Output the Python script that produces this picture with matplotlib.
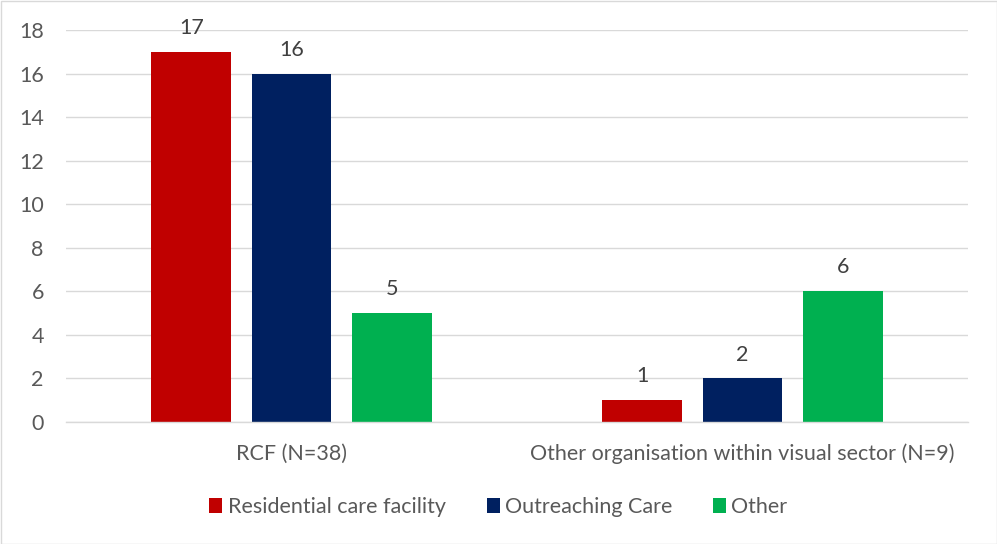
import matplotlib
matplotlib.use("Agg")
import matplotlib.pyplot as plt
import numpy as np
from matplotlib.patches import Rectangle

categories = ["RCF (N=38)", "Other organisation within visual sector (N=9)"]
series_names = ["Residential care facility", "Outreaching Care", "Other"]
residential = [17, 1]
outreaching = [16, 2]
other = [5, 6]
colors = ["#C00000", "#002060", "#00B050"]

plt.rcParams['font.family'] = ['Lato', 'DejaVu Sans']
txt = "#595959"
fs = 15.5

fig = plt.figure(figsize=(9.97, 5.44), dpi=100)
ax = fig.add_axes([66/997, 1-422/544, 902/997, 392/544])

x = np.arange(len(categories))
w = 0.177
off = 0.222
for i, (vals, c, name) in enumerate(zip([residential, outreaching, other], colors, series_names)):
    bars = ax.bar(x + (i-1)*off, vals, width=w, color=c, label=name, zorder=3)
    for b, v in zip(bars, vals):
        ax.annotate(str(v), (b.get_x()+b.get_width()/2, v), xytext=(0, 10),
                    textcoords="offset points", ha="center", va="bottom",
                    fontsize=fs, color="#404040")

ax.set_xlim(-0.5, 1.5)
ax.set_ylim(0, 18)
ax.set_yticks(range(0, 19, 2))
ax.set_xticks(x)
ax.set_xticklabels(categories)
ax.tick_params(axis='both', length=0, labelsize=fs, labelcolor=txt)
ax.tick_params(axis='x', pad=15.5)
ax.tick_params(axis='y', pad=16)
ax.grid(axis='y', color="#D9D9D9", linewidth=1, zorder=0)
for s in ['top', 'right', 'left']:
    ax.spines[s].set_visible(False)
ax.spines['bottom'].set_color("#D9D9D9")
ax.spines['bottom'].set_linewidth(1)
ax.spines['bottom'].set_zorder(4)

leg = fig.legend(loc='center', bbox_to_anchor=(0.5, 1-507/544), ncol=3, frameon=False,
                 fontsize=fs, handlelength=0.6, handleheight=0.7, handletextpad=0.25,
                 columnspacing=1.9, labelcolor=txt)

fig.patches.append(Rectangle((0.5/997, 0.5/544), 1-1/997, 1-1/544, transform=fig.transFigure,
                             fill=False, edgecolor="#D9D9D9", linewidth=1))

fig.savefig("out.png", dpi=100)
